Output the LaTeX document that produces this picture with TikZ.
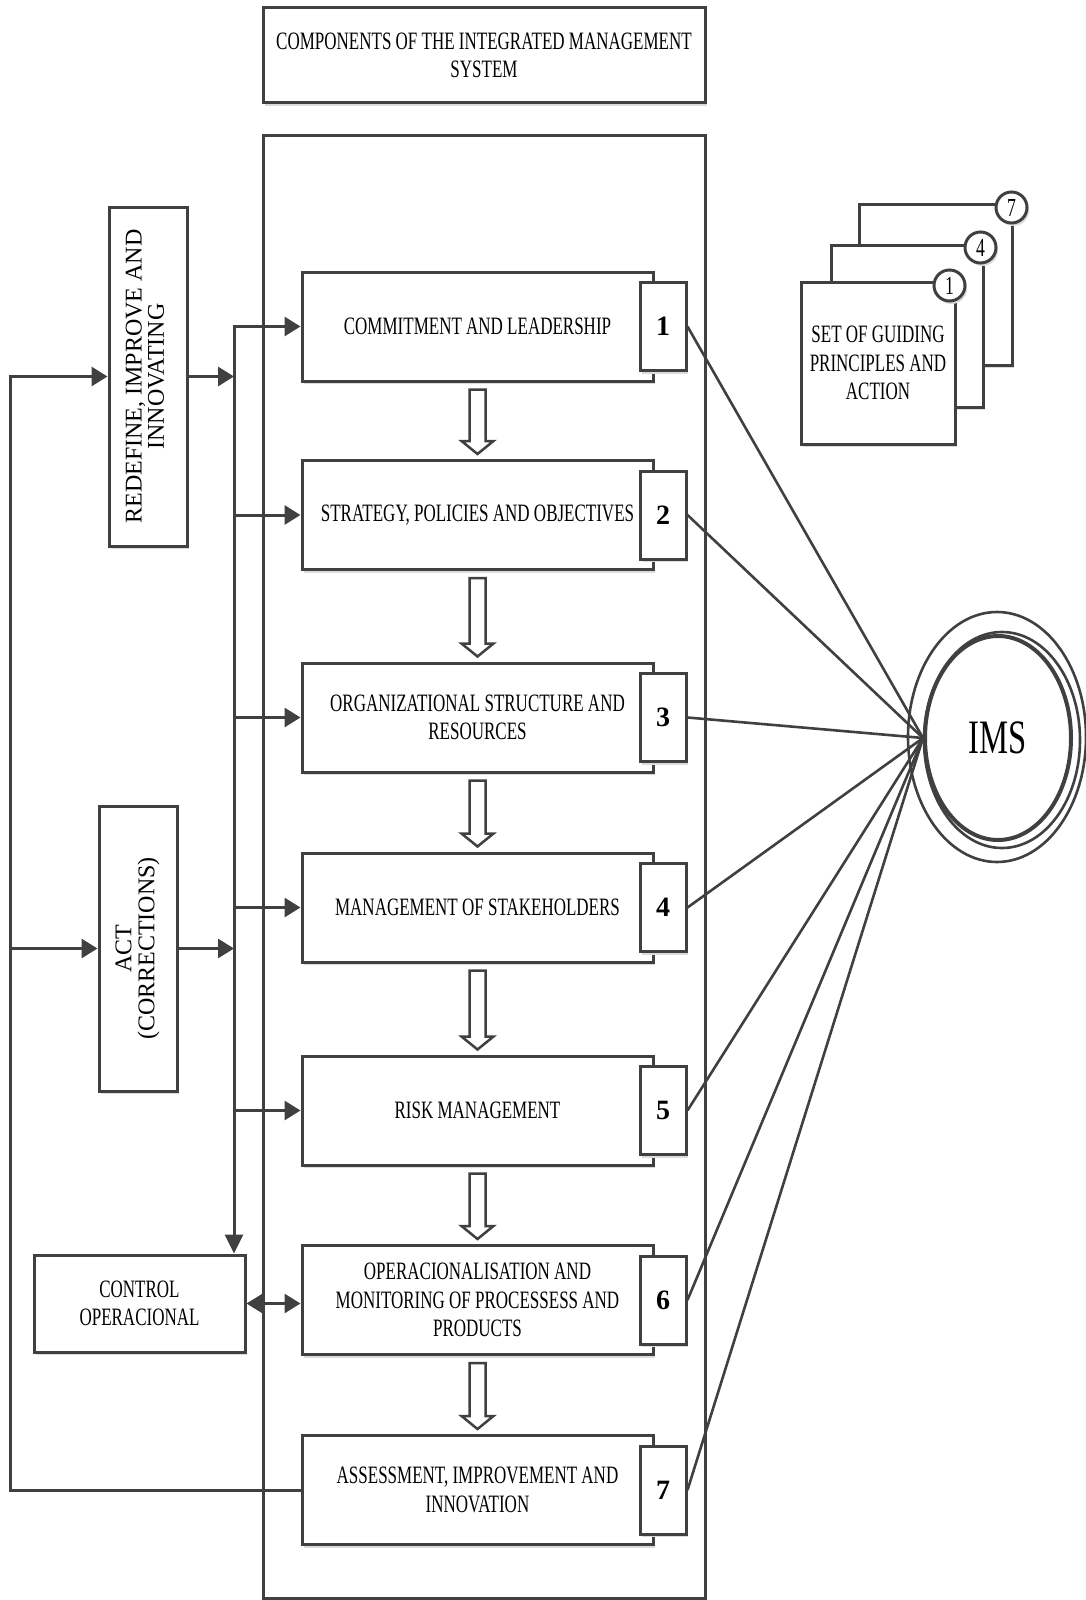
\documentclass[tikz,border=0pt]{standalone}
\usepackage{fontspec}
\usepackage{graphicx}
\setmainfont{Liberation Serif}
\newfontfamily\condfont{Liberation Serif}[FakeStretch=0.68]
\usetikzlibrary{arrows.meta,calc,shapes.geometric,shadows}
\definecolor{ink}{HTML}{404040}

% hollow block arrow between two stacked boxes
\newcommand\hollowdown[2]{%
  \draw[hollow] ($(#1.south)+(-8,7)$) -- ($(#2.north)+(-8,-18)$)
    -- ($(#2.north)+(-16,-18)$) -- ($(#2.north)+(0,-5)$)
    -- ($(#2.north)+(16,-18)$) -- ($(#2.north)+(8,-18)$)
    -- ($(#1.south)+(8,7)$) -- cycle;}

\begin{document}
\begin{tikzpicture}[x=1pt,y=-1pt,
  shadowed/.style={drop shadow={shadow xshift=2pt,shadow yshift=-3pt,fill=black!14,opacity=1}},
  box/.style={draw=ink,fill=white,line width=3pt,text=black,align=center,inner sep=0pt,
    font=\condfont\fontsize{25}{28.5}\selectfont,shadowed},
  mainbox/.style={box,minimum width=351pt,minimum height=109pt},
  numbox/.style={box,minimum width=46pt,minimum height=88pt,
    font=\bfseries\fontsize{28}{30}\selectfont},
  sidebox/.style={box,font=\fontsize{24}{21}\selectfont},
  badge/.style={circle,draw=ink,fill=white,line width=3pt,text=black,inner sep=0pt,
    minimum size=31pt,font=\condfont\fontsize{26}{26}\selectfont,shadowed},
  conn/.style={draw=ink,line width=3pt},
  arr/.style={conn,-{Triangle[length=16pt,width=19pt]}},
  darr/.style={conn,{Triangle[length=16pt,width=19pt]}-{Triangle[length=16pt,width=19pt]}},
  spoke/.style={draw=ink,line width=2.6pt},
  hollow/.style={draw=ink,fill=white,line width=2.5pt,line join=miter},
]
\useasboundingbox (0,0) rectangle (1086,1600);

% title and frame of the components
\node[box,minimum width=442pt,minimum height=95pt] (title) at (484,55.5)
  {COMPONENTS OF THE INTEGRATED MANAGEMENT\\SYSTEM};
\node[draw=ink,line width=3pt,minimum width=442pt,minimum height=1462pt,inner sep=0pt]
  (frame) at (484,867) {};

% main sequence of components
\node[mainbox] (b1) at (477.5,326.5) {COMMITMENT AND LEADERSHIP};
\node[mainbox] (b2) at (477.5,515) {STRATEGY, POLICIES AND OBJECTIVES};
\node[mainbox] (b3) at (477.5,717.5) {ORGANIZATIONAL STRUCTURE AND\\RESOURCES};
\node[mainbox] (b4) at (477.5,907.5) {MANAGEMENT OF STAKEHOLDERS};
\node[mainbox] (b5) at (477.5,1110.5) {RISK MANAGEMENT};
\node[mainbox] (b6) at (477.5,1300) {OPERACIONALISATION AND\\MONITORING OF PROCESSESS AND\\PRODUCTS};
\node[mainbox] (b7) at (477.5,1490) {ASSESSMENT, IMPROVEMENT AND\\INNOVATION};

\foreach \i in {1,...,7}{
  \node[numbox] (n\i) at ($(b\i.center)+(185.5,0)$) {\i};
}

\hollowdown{b1}{b2}
\hollowdown{b2}{b3}
\hollowdown{b3}{b4}
\hollowdown{b4}{b5}
\hollowdown{b5}{b6}
\hollowdown{b6}{b7}

% left-hand blocks
\node[sidebox,minimum width=78pt,minimum height=339pt] (redef) at (148,376.5)
  {\rotatebox{90}{\begin{tabular}{@{}c@{}}REDEFINE, IMPROVE AND\\INNOVATING\end{tabular}}};
\node[sidebox,minimum width=78pt,minimum height=285pt] (act) at (138,948.5)
  {\rotatebox{90}{\begin{tabular}{@{}c@{}}ACT\\(CORRECTIONS)\end{tabular}}};
\node[box,minimum width=211pt,minimum height=97pt] (ctrl) at (139.5,1303.5)
  {CONTROL\\OPERACIONAL};

\coordinate (railx) at (10,0);
\coordinate (vline) at (234,0);

% feedback loop
\draw[arr] (b7.west) -- (b7.west -| railx) -- (redef.west -| railx) -- (redef.west);
\draw[arr] (act.west -| railx) -- (act.west);

% distribution line
\draw[arr] (redef.east) -- (redef.east -| vline);
\draw[arr] (act.east) -- (act.east -| vline);
\draw[conn,{Triangle[length=16pt,width=19pt]}-{Triangle[length=19pt,width=18pt]}]
  (b1.west) -- (b1.west -| vline) -- (ctrl.north -| vline);
\foreach \i in {2,...,5}{
  \draw[arr] (b\i.west -| vline) -- (b\i.west);
}
\draw[darr] (ctrl.east) -- (ctrl.east -| b6.west);

% guiding principles stack
\node[box,minimum width=153pt,minimum height=161pt] (g7) at (935.5,284.5) {};
\node[box,minimum width=152pt,minimum height=162pt] (g4) at (907,326) {};
\node[box,minimum width=154pt,minimum height=162pt] (g1) at (878,363)
  {SET OF GUIDING\\PRINCIPLES AND\\ACTION};
\node[badge] (c7) at ($(g7.north east)+(-2,5)$) {7};
\node[badge] (c4) at ($(g4.north east)+(-4,4)$) {4};
\node[badge] (c1) at ($(g1.north east)+(-7,5)$) {1};

% IMS
\draw[ink,line width=2.6pt] (997,737) ellipse [x radius=89, y radius=125];
\draw[ink,line width=2.6pt] (1002,740) ellipse [x radius=78, y radius=108];
\node[ellipse,draw=ink,line width=4pt,fill=white,fill opacity=0,text opacity=1,text=black,
  minimum width=146pt,minimum height=204pt,inner sep=0pt,
  font=\condfont\fontsize{48}{50}\selectfont] (ims) at (998,738) {IMS};

\foreach \i in {1,...,7}{
  \draw[spoke] (n\i.east) -- (ims.west);
}
\end{tikzpicture}
\end{document}
